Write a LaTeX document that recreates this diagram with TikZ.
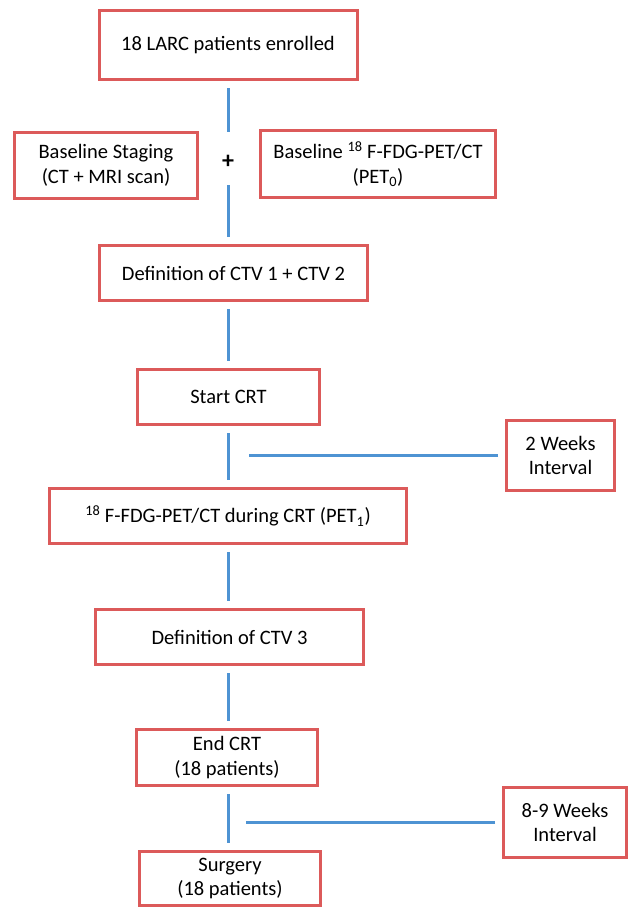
\documentclass[tikz,border=0pt]{standalone}
\usepackage{fontspec}
\setmainfont{Carlito}
\usepackage{tikz}
\usetikzlibrary{positioning,calc}
\definecolor{boxred}{HTML}{DC5A5A}
\definecolor{linkblue}{HTML}{4E93D3}

\begin{document}
\begin{tikzpicture}[x=1pt, y=-1pt,
  every node/.style={font=\fontsize{20.5}{24.5}\selectfont, align=center},
  box/.style={draw=boxred, line width=3pt, fill=white, inner sep=2pt},
  link/.style={draw=linkblue, line width=3pt, shorten <=7pt, shorten >=7pt}]
  \useasboundingbox (0,0) rectangle (630,908);
  % main column
  \node[box, minimum width=258pt, minimum height=69pt] (enrolled) at (228,45) {18 LARC patients enrolled};
  \node[font=\bfseries\fontsize{24}{24}\selectfont, minimum height=46pt, inner sep=0pt] (plus) at (228,162) {+};
  \node[box, minimum width=183pt, minimum height=66pt] (staging) at (106,165.5) {Baseline Staging\\(CT + MRI scan)};
  \node[box, minimum width=235pt, minimum height=67pt] (petzero) at (378,164) {Baseline \textsuperscript{18} F-FDG-PET/CT\\(PET\textsubscript{0})};
  \node[box, minimum width=268pt, minimum height=55pt] (ctvone) at (233.5,273) {Definition of CTV 1 + CTV 2};
  \node[box, minimum width=182pt, minimum height=55pt] (startcrt) at (228.5,397) {Start CRT};
  \node[box, minimum width=357pt, minimum height=55pt] (petone) at (228,516) {\textsuperscript{18} F-FDG-PET/CT during CRT (PET\textsubscript{1})};
  \node[box, minimum width=268pt, minimum height=55pt] (ctvthree) at (229.5,637) {Definition of CTV 3};
  \node[box, minimum width=181pt, minimum height=56pt] (endcrt) at (227,757.5) {End CRT\\(18 patients)};
  \node[box, minimum width=181pt, minimum height=54pt] (surgery) at (230,878.5) {Surgery\\(18 patients)};
  % intervals
  \node[box, minimum width=108pt, minimum height=70pt] (weekstwo) at (560.5,455.5) {2 Weeks\\Interval};
  \node[box, minimum width=123pt, minimum height=70pt] (weeksnine) at (565,822.5) {8-9 Weeks\\Interval};
  \coordinate (gapone) at (242,455.5);
  \coordinate (gaptwo) at (239,822.5);
  % connectors
  \draw[link] (enrolled.south -| plus) -- (plus.north);
  \draw[link, shorten <=0pt] (plus.south) -- (plus |- ctvone.north);
  \draw[link, shorten <=7pt] (ctvone.south -| startcrt) -- (startcrt.north);
  \draw[link] (startcrt.south) -- (startcrt |- petone.north);
  \draw[link] (petone.south) -- (petone |- ctvthree.north);
  \draw[link] (ctvthree.south -| petone) -- (petone |- endcrt.north);
  \draw[link] (endcrt.south -| petone) -- (petone |- surgery.north);
  \draw[link] (weekstwo.west) -- (gapone);
  \draw[link] (weeksnine.west) -- (gaptwo);
\end{tikzpicture}
\end{document}
